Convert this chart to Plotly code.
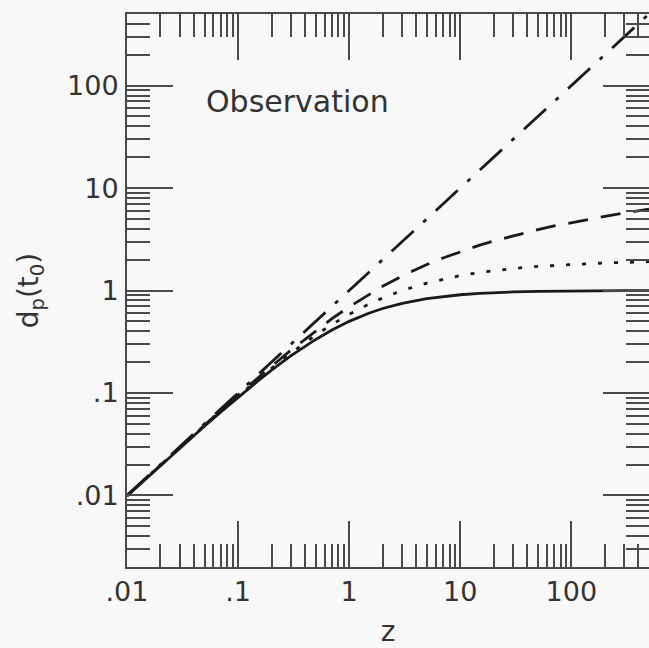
import plotly.graph_objects as go

# redshift samples
z = [0.01, 0.02, 0.03, 0.05, 0.07, 0.1, 0.15, 0.2, 0.3, 0.5, 0.7, 1, 1.5, 2, 3, 5, 7,
     10, 15, 20, 30, 50, 70, 100, 150, 200, 300, 500]

# proper distance today
d_solid = [0.0099, 0.0196, 0.0291, 0.0476, 0.0654, 0.0909, 0.130, 0.167, 0.231, 0.333,
           0.412, 0.5, 0.6, 0.667, 0.75, 0.833, 0.875, 0.909, 0.9375, 0.952, 0.968,
           0.980, 0.986, 0.990, 0.993, 0.995, 0.997, 0.998]
d_dotted = [0.00992, 0.0197, 0.0293, 0.0482, 0.0665, 0.0931, 0.135, 0.174, 0.246, 0.367,
            0.466, 0.586, 0.735, 0.845, 1.0, 1.18, 1.29, 1.40, 1.5, 1.56, 1.64, 1.72,
            1.76, 1.80, 1.84, 1.86, 1.88, 1.91]
d_dashed = [0.00995, 0.0198, 0.0296, 0.0488, 0.0677, 0.0953, 0.140, 0.182, 0.262, 0.405,
            0.531, 0.693, 0.916, 1.099, 1.386, 1.792, 2.079, 2.398, 2.773, 3.045, 3.434,
            3.932, 4.263, 4.615, 5.017, 5.303, 5.707, 6.217]
d_dashdot = [0.01, 0.02, 0.03, 0.05, 0.07, 0.1, 0.15, 0.2, 0.3, 0.5, 0.7, 1, 1.5, 2, 3,
             5, 7, 10, 15, 20, 30, 50, 70, 100, 150, 200, 300, 500]

x_tickvals = [0.01, 0.1, 1, 10, 100]
x_ticktext = [".01", ".1", "1", "10", "100"]
y_tickvals = [0.01, 0.1, 1, 10, 100]
y_ticktext = [".01", ".1", "1", "10", "100"]

annotation_text = "Observation"
x_title = "z"
y_title = "d<sub>p</sub>(t<sub>0</sub>)"

FONT = "DejaVu Sans"
INK = "#1a1a1a"
AX = "#4a4a4a"
BG = "#f8f8f8"


def minor_vals(lo_exp, hi_exp, vmax):
    out = []
    for e in range(lo_exp, hi_exp + 1):
        for m in range(2, 10):
            v = m * 10 ** e
            if v <= vmax:
                out.append(v)
    return out


fig = go.Figure()
series = [
    (d_solid, "solid"),
    (d_dotted, "4px,12px"),
    (d_dashed, "20px,13px"),
    (d_dashdot, "30px,13px,4px,13px"),
]
for ys, dash in series:
    fig.add_trace(go.Scatter(x=z, y=ys, mode="lines",
                             line=dict(color=INK, width=2.8, dash=dash),
                             showlegend=False, hoverinfo="skip"))

axis_common = dict(
    type="log", showgrid=False, zeroline=False, automargin=False,
    showline=True, linecolor=AX, linewidth=2, mirror="ticks",
    ticks="inside", ticklen=46, tickwidth=2, tickcolor=AX,
    tickfont=dict(family=FONT, size=27, color="#333333"),
)

fig.update_xaxes(
    **axis_common,
    range=[-2, 2.699],
    tickmode="array", tickvals=x_tickvals, ticktext=x_ticktext,
    minor=dict(tickmode="array", tickvals=minor_vals(-2, 2, 500),
               ticks="inside", ticklen=23, tickwidth=2, tickcolor=AX, showgrid=False),
    ticklabelstandoff=0,
    title=dict(text=x_title, font=dict(family=FONT, size=28, color="#333333"), standoff=32),
)
fig.update_yaxes(
    **axis_common,
    range=[-2.699, 2.699],
    tickmode="array", tickvals=y_tickvals, ticktext=y_ticktext,
    minor=dict(tickmode="array", tickvals=minor_vals(-3, 2, 500),
               ticks="inside", ticklen=23, tickwidth=2, tickcolor=AX, showgrid=False),
    ticklabelstandoff=1,
    title=dict(text=y_title, font=dict(family=FONT, size=28, color="#333333"), standoff=20),
)

fig.add_annotation(
    text=annotation_text, xref="paper", yref="paper",
    x=0.147, y=0.841, xanchor="left", yanchor="middle", showarrow=False,
    font=dict(family=FONT, size=30, color="#333333"),
)

fig.update_layout(
    width=649, height=648,
    margin=dict(l=127, r=0, t=14, b=81),
    paper_bgcolor=BG, plot_bgcolor=BG,
)

post = ("document.body.style.margin='0px';"
        "document.body.style.overflow='hidden';"
        "Plotly.relayout(document.getElementById('{plot_id}'), {width: 649, height: 648});")
fig.write_html("out.html", post_script=post,
               config={"responsive": False, "displayModeBar": False})
